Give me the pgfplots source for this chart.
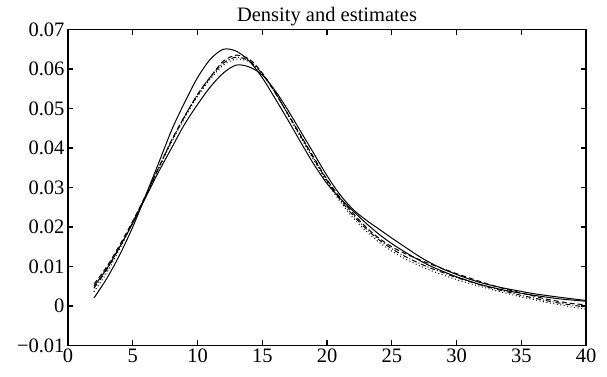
\documentclass[border=0pt]{standalone}
\usepackage{fontspec}
\setmainfont{Liberation Serif}
\usepackage{pgfplots}
\pgfplotsset{compat=1.18}
\begin{document}
\begin{tikzpicture}
\begin{axis}[
  scale only axis,
  width=518pt, height=316pt,
  xmin=0, xmax=40, ymin=-0.01, ymax=0.07,
  xtick={0,5,...,40},
  ytick={-0.01,0,0.01,0.02,0.03,0.04,0.05,0.06,0.07},
  yticklabels={−0.01,0,0.01,0.02,0.03,0.04,0.05,0.06,0.07},
  scaled y ticks=false,
  tick pos=both,
  tick align=inside,
  major tick length=5pt,
  axis line style={line width=1.2pt, black},
  every tick/.style={line width=1.1pt, black},
  tick label style={font=\fontsize{20.5}{24}\selectfont},
  /pgf/number format/assume math mode=true,
  title={Density and estimates},
  title style={font=\fontsize{20.5}{24}\selectfont, yshift=-6pt},
  curve/.style={black, line width=1pt, smooth, mark=none},
]
% solid, high peak
\addplot[curve, solid] coordinates {(2,0.002)(3,0.007)(4,0.013)(5,0.020)(6,0.028)(7,0.0362)(8,0.0445)(9,0.0515)(10,0.0578)(11,0.0625)(12,0.0650)(13,0.0645)(14,0.0620)(15,0.0578)(16,0.0525)(17,0.0470)(18,0.0413)(19,0.0358)(20,0.0310)(21,0.0273)(22,0.0241)(23,0.0210)(24,0.0182)(25,0.0158)(26,0.0137)(27,0.0118)(28,0.0101)(29,0.0087)(30,0.0074)(31,0.0063)(32,0.0053)(34,0.0038)(36,0.0027)(38,0.0018)(40,0.0012)};
% solid, lower peak with shoulder
\addplot[curve, solid] coordinates {(2,0.0050)(3,0.0095)(4,0.0150)(5,0.0210)(6,0.0275)(7,0.0340)(8,0.0400)(9,0.0460)(10,0.0510)(11,0.0555)(12,0.0590)(13,0.0610)(14,0.0605)(15,0.0585)(16,0.0545)(17,0.0495)(18,0.0440)(19,0.0385)(20,0.0330)(21,0.0282)(22,0.0245)(23,0.0218)(24,0.0195)(25,0.0172)(26,0.0150)(27,0.0128)(28,0.0109)(29,0.0093)(30,0.0080)(31,0.0068)(32,0.0058)(33,0.0050)(34,0.0043)(35,0.0037)(36,0.0031)(38,0.0022)(40,0.0014)};
% dashed
\addplot[curve, dash pattern=on 5pt off 3pt] coordinates {(2,0.0055)(3,0.0100)(4,0.0155)(5,0.0215)(6,0.0280)(7,0.0350)(8,0.0420)(9,0.0480)(10,0.0535)(11,0.0580)(12,0.0620)(13,0.0635)(14,0.0625)(15,0.0590)(16,0.0540)(17,0.0485)(18,0.0430)(19,0.0375)(20,0.0320)(21,0.0275)(22,0.0235)(23,0.0200)(24,0.0172)(25,0.0150)(26,0.0133)(27,0.0119)(28,0.0106)(29,0.0094)(30,0.0082)(31,0.0071)(32,0.0060)(33,0.0050)(34,0.0041)(35,0.0033)(36,0.0025)(37,0.0017)(38,0.0011)(39,0.0006)(40,0.0003)};
% dash-dot
\addplot[curve, dash pattern=on 5pt off 2pt on 1pt off 2pt] coordinates {(2,0.0045)(3,0.0092)(4,0.0150)(5,0.0212)(6,0.0280)(7,0.0350)(8,0.0418)(9,0.0480)(10,0.0535)(11,0.0580)(12,0.0615)(13,0.0630)(14,0.0620)(15,0.0588)(16,0.0540)(17,0.0485)(18,0.0428)(19,0.0372)(20,0.0318)(21,0.0270)(22,0.0230)(23,0.0196)(24,0.0168)(25,0.0145)(26,0.0126)(27,0.0110)(28,0.0096)(29,0.0084)(30,0.0072)(31,0.0062)(32,0.0052)(33,0.0043)(34,0.0035)(35,0.0027)(36,0.0020)(37,0.0013)(38,0.0007)(39,0.0002)(40,-0.0003)};
% dotted
\addplot[curve, dash pattern=on 1pt off 2.5pt] coordinates {(2,0.0036)(3,0.0085)(4,0.0145)(5,0.0210)(6,0.0278)(7,0.0348)(8,0.0415)(9,0.0475)(10,0.0530)(11,0.0575)(12,0.0610)(13,0.0625)(14,0.0618)(15,0.0588)(16,0.0540)(17,0.0483)(18,0.0425)(19,0.0368)(20,0.0313)(21,0.0265)(22,0.0224)(23,0.0190)(24,0.0162)(25,0.0139)(26,0.0120)(27,0.0104)(28,0.0090)(29,0.0078)(30,0.0067)(31,0.0057)(32,0.0048)(33,0.0039)(34,0.0031)(35,0.0023)(36,0.0016)(37,0.0009)(38,0.0003)(39,-0.0003)(40,-0.0008)};
\end{axis}
\pgfresetboundingbox
\path (-68pt,-31.3pt) rectangle (539pt,345.5pt);
\end{tikzpicture}
\end{document}
